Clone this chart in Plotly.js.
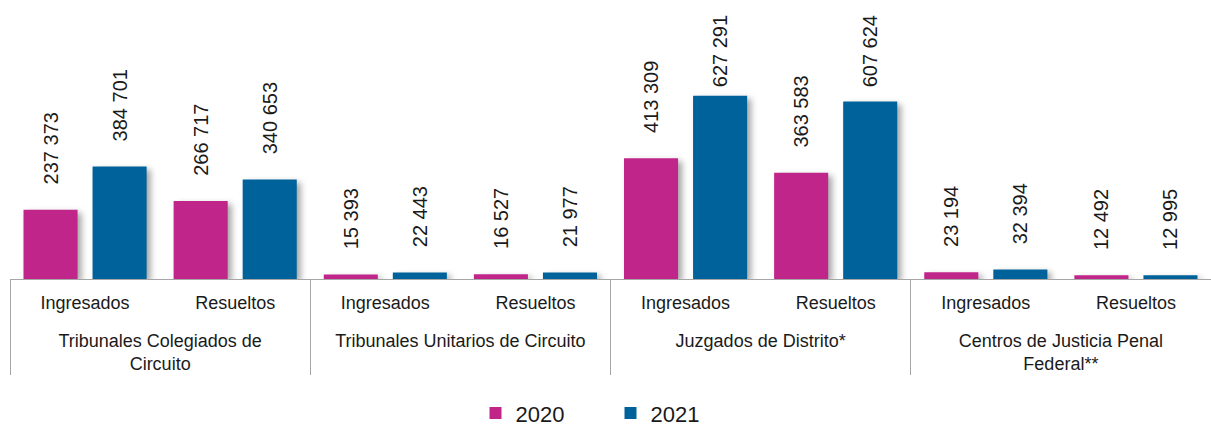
<!DOCTYPE html>
<html>
<head>
<meta charset="utf-8">
<script src="https://cdn.plot.ly/plotly-3.0.1.min.js"></script>
<style>
  body { margin: 0; background: #fff; }
  #chart { width: 1211px; height: 426px; }
  #chart .bars .point path { filter: drop-shadow(4px 3px 3px rgba(0,0,0,0.35)); }
</style>
</head>
<body>
<div id="chart"></div>
<script>
// Órganos jurisdiccionales (grupo exterior) y tipo de asunto (interior)
const groups = [
    '<br>Tribunales Colegiados de<br>Circuito', '<br>Tribunales Colegiados de<br>Circuito',
    '<br>Tribunales Unitarios de Circuito', '<br>Tribunales Unitarios de Circuito',
    '<br>Juzgados de Distrito*', '<br>Juzgados de Distrito*',
    '<br>Centros de Justicia Penal<br>Federal**', '<br>Centros de Justicia Penal<br>Federal**'
];
const kinds = ['Ingresados', 'Resueltos', 'Ingresados', 'Resueltos',
               'Ingresados', 'Resueltos', 'Ingresados', 'Resueltos'];

const values2020 = [237373, 266717, 15393, 16527, 413309, 363583, 23194, 12492];
const values2021 = [384701, 340653, 22443, 21977, 627291, 607624, 32394, 12995];

const color2020 = '#C0268A';
const color2021 = '#00629B';

const yMax = 955000;
const plotH = 279;

// espacio como separador de miles; relleno para separar la etiqueta de la barra,
// reducido cuando la etiqueta no cabe bajo el borde superior
function fmt(v) {
    const room = plotH * (1 - v / yMax) - 12 - 73 - 3;
    const n = Math.max(0, Math.min(4, Math.floor(room / 5.56)));
    return '\u00a0'.repeat(n) + String(v).replace(/\B(?=(\d{3})+(?!\d))/g, ' ');
}

function makeTrace(name, values, color) {
    return {
        x: [groups, kinds],
        y: values,
        name: name,
        type: 'bar',
        marker: { color: color },
        text: values.map(fmt),
        textposition: 'outside',
        textangle: -90,
        constraintext: 'none',
        cliponaxis: false,
        textfont: { size: 20, color: '#1a1a1a' },
        hoverinfo: 'none'
    };
}

const data = [
    makeTrace('2020', values2020, color2020),
    makeTrace('2021', values2021, color2021)
];

const layout = {
    width: 1211,
    height: 426,
    margin: { l: 10, r: 0, t: 0, b: 147 },
    font: { family: 'Liberation Sans, Arial, sans-serif', size: 18, color: '#1a1a1a' },
    paper_bgcolor: '#fff',
    plot_bgcolor: '#fff',
    barmode: 'group',
    bargap: 0.08,
    bargroupgap: 0.217,
    xaxis: {
        type: 'multicategory',
        automargin: false,
        showline: true,
        linecolor: '#a6a6a6',
        linewidth: 1,
        showdividers: true,
        dividercolor: '#a6a6a6',
        dividerwidth: 1,
        ticks: '',
        ticklabelstandoff: 7,
        tickfont: { size: 18 },
        showgrid: false,
        zeroline: false
    },
    yaxis: {
        range: [0, yMax],
        visible: false,
        showgrid: false,
        zeroline: false
    },
    showlegend: true,
    legend: {
        orientation: 'h',
        x: 0.5,
        xanchor: 'center',
        yref: 'container',
        y: 0.03,
        yanchor: 'middle',
        font: { size: 22 },
        entrywidth: 90
    }
};

Plotly.newPlot('chart', data, layout, { displayModeBar: false, staticPlot: true });
</script>
</body>
</html>
